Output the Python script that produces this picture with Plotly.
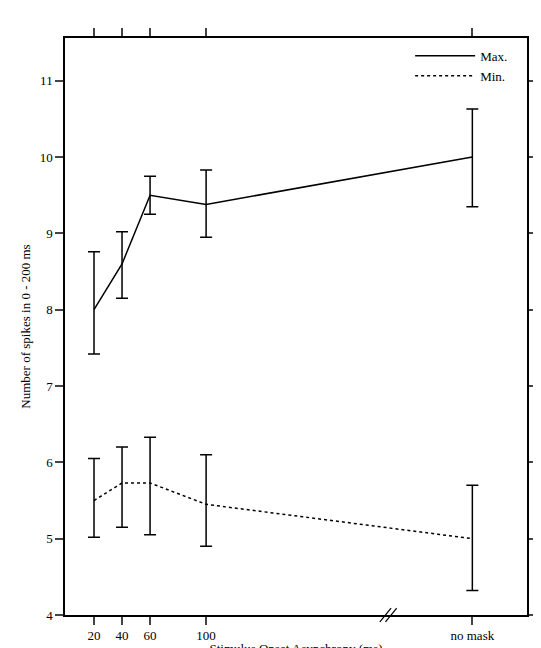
import plotly.graph_objects as go

x_pos = [20, 40, 60, 100, 290]
x_labels = ["20", "40", "60", "100", "no mask"]
max_vals = [8.0, 8.6, 9.5, 9.38, 10.0]
max_hi = [8.76, 9.02, 9.75, 9.83, 10.63]
max_lo = [7.42, 8.15, 9.25, 8.95, 9.35]
min_vals = [5.5, 5.73, 5.73, 5.45, 5.0]
min_hi = [6.05, 6.2, 6.33, 6.1, 5.7]
min_lo = [5.02, 5.15, 5.05, 4.9, 4.32]

FONT = "Liberation Serif, Times New Roman, serif"
F = dict(family=FONT, size=13, color="black")

def err(v, hi, lo):
    return dict(type="data", symmetric=False,
                array=[h - a for a, h in zip(v, hi)],
                arrayminus=[a - l for a, l in zip(v, lo)],
                color="black", thickness=1.5, width=6)

fig = go.Figure()
fig.add_trace(go.Scatter(x=x_pos, y=max_vals, mode="lines", name="Max.",
                         line=dict(color="black", width=1.5),
                         error_y=err(max_vals, max_hi, max_lo)))
fig.add_trace(go.Scatter(x=x_pos, y=min_vals, mode="lines", name="Min.",
                         line=dict(color="black", width=1.5, dash="dot"),
                         error_y=err(min_vals, min_hi, min_lo)))

for dx in [-4, 0]:
    fig.add_shape(type="line", xref="x", yref="paper",
                  x0=228 + dx, x1=236 + dx, y0=-0.012, y1=0.012,
                  line=dict(color="black", width=1.2))

fig.update_layout(
    width=541, height=648, plot_bgcolor="white", paper_bgcolor="white",
    margin=dict(l=57, r=22, t=30, b=41),
    font=F,
    legend=dict(x=0.97, y=0.995, xanchor="right", yanchor="top",
                bgcolor="rgba(0,0,0,0)", font=F, itemwidth=60),
    xaxis=dict(range=[-0.7, 329], tickvals=x_pos, ticktext=x_labels,
               automargin=False, tickfont=F,
               showgrid=False, zeroline=False, showline=True,
               linecolor="black", linewidth=1.5, mirror="ticks",
               ticks="outside", ticklen=8, tickwidth=1.5,
               title=dict(text="Stimulus Onset Asynchrony (ms)", font=F, standoff=22)),
    yaxis=dict(range=[4, 11.56], tickvals=[4, 5, 6, 7, 8, 9, 10, 11],
               automargin=False, tickfont=F,
               showgrid=False, zeroline=False, showline=True,
               linecolor="black", linewidth=1.5, mirror="ticks",
               ticks="outside", ticklen=8, tickwidth=1.5,
               title=dict(text="Number of spikes in 0 - 200 ms", font=F, standoff=6)),
)
fig.write_html("out.html")
